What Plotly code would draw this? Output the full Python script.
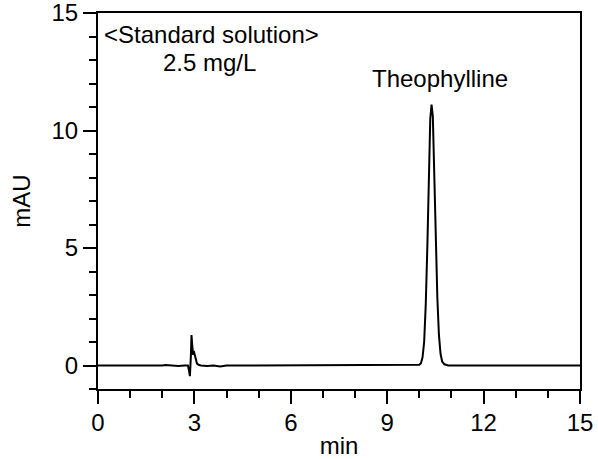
import plotly.graph_objects as go

# Chromatogram (time in min, signal in mAU)
time_min = [0.0, 0.5, 1.0, 1.5, 2.0, 2.1, 2.3, 2.5, 2.7, 2.8, 2.83, 2.86, 2.89, 2.91, 2.93,
            2.96, 2.98, 3.01, 3.04, 3.08, 3.13, 3.2, 3.4, 3.6, 3.8, 4.0, 4.5, 5.0, 6.0, 7.0,
            8.0, 9.0, 9.5, 9.8, 10.0, 10.05, 10.1, 10.15, 10.2, 10.25, 10.3, 10.34, 10.38,
            10.42, 10.46, 10.51, 10.56, 10.61, 10.66, 10.71, 10.78, 10.9, 11.2, 12.0, 13.0,
            14.0, 15.0]
signal_mau = [0.0, 0.0, 0.0, -0.02, 0.0, 0.02, 0.0, -0.02, 0.0, 0.0, -0.2, -0.45, 0.4, 1.3, 0.9,
              0.45, 0.62, 0.45, 0.2, 0.08, 0.03, 0.0, -0.02, 0.0, -0.04, 0.0, 0.0, 0.0, 0.0, 0.0,
              0.0, 0.0, 0.0, 0.0, 0.03, 0.1, 0.35, 1.0, 2.6, 5.1, 8.2, 10.5, 11.1,
              10.6, 8.4, 5.4, 2.9, 1.3, 0.5, 0.17, 0.05, 0.0, 0.0, 0.0, 0.0,
              0.0, 0.0]

x_ticks = [0, 3, 6, 9, 12, 15]
y_ticks = [0, 5, 10, 15]

FONT = "Liberation Sans, Arial, sans-serif"
FS = 24

fig = go.Figure()
fig.add_trace(go.Scatter(x=time_min, y=signal_mau, mode="lines",
                         line=dict(color="black", width=2), showlegend=False,
                         hoverinfo="skip"))

axis_common = dict(showgrid=False, zeroline=False, showline=True, linecolor="black",
                   linewidth=2, mirror=True, ticks="outside", ticklen=13, tickwidth=1.8,
                   tickcolor="black", automargin=False, ticklabeloverflow="allow",
                   tickfont=dict(family=FONT, size=FS, color="black"))

fig.update_xaxes(range=[0, 15], tickvals=x_ticks, ticktext=[str(v) for v in x_ticks],
                 minor=dict(dtick=1, ticklen=7, tickwidth=1.8, tickcolor="black",
                            ticks="outside", showgrid=False),
                 ticklabelstandoff=-2,
                 title=dict(text="min", font=dict(family=FONT, size=FS, color="black"),
                            standoff=4),
                 **axis_common)
fig.update_yaxes(range=[-1, 15], tickvals=y_ticks, ticktext=[str(v) for v in y_ticks],
                 minor=dict(dtick=1, tick0=0, ticklen=7, tickwidth=1.8, tickcolor="black",
                            ticks="outside", showgrid=False),
                 title=dict(text="mAU", font=dict(family=FONT, size=FS, color="black"),
                            standoff=14),
                 **axis_common)

fig.add_annotation(x=0.12, y=14.07, text="&lt;Standard solution&gt;", showarrow=False,
                   xanchor="left", yanchor="middle",
                   font=dict(family=FONT, size=FS, color="black"))
fig.add_annotation(x=3.48, y=12.91, text="2.5 mg/L", showarrow=False,
                   xanchor="center", yanchor="middle",
                   font=dict(family=FONT, size=FS, color="black"))
fig.add_annotation(x=10.64, y=12.2, text="Theophylline", showarrow=False,
                   xanchor="center", yanchor="middle",
                   font=dict(family=FONT, size=FS, color="black"))

fig.update_layout(width=598, height=459, margin=dict(l=98, r=18, t=13, b=70),
                  plot_bgcolor="white", paper_bgcolor="white",
                  font=dict(family=FONT, size=FS, color="black"))

# remove the default 8px page margin so the figure sits at the window's corner
fig.write_html("out.html", config={"displayModeBar": False},
               post_script="document.body.style.margin='0';")
